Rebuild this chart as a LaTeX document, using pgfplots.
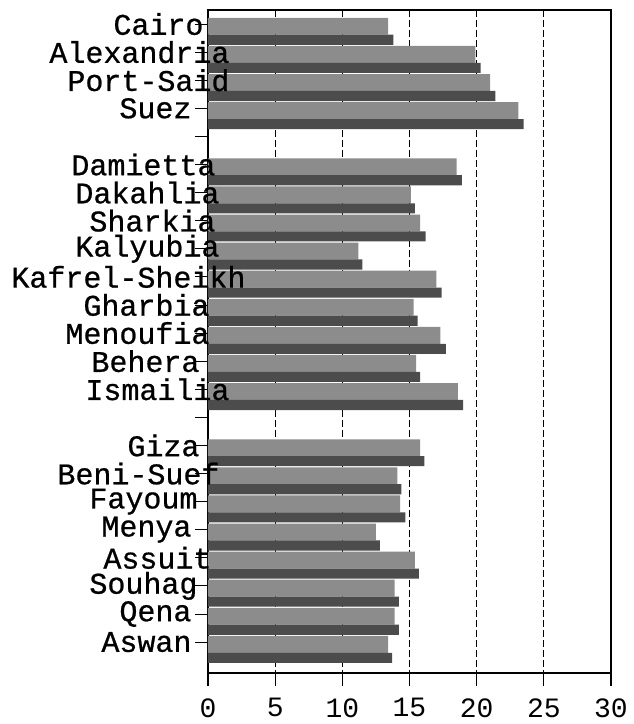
\documentclass[border=0pt]{standalone}
\usepackage{pgfplots}
\usepackage{pgfplotstable}
\pgfplotsset{compat=1.18}
\usepackage{fontspec}
\setmainfont[FakeBold=0.7]{Liberation Mono}
\newfontfamily\numfont{Liberation Mono}
\definecolor{barlight}{gray}{0.55}
\definecolor{bardark}{gray}{0.3}
\newcommand\ov[2]{#1\kern-#2pt\mbox{}}
\pgfplotsset{common/.style={scale only axis, width=403pt, height=663pt,
  xmin=0, xmax=30, ymin=-0.5, ymax=23.1, y dir=reverse,
  xtick={0,5,...,30}, ytick={0,...,22},
  xtick pos=bottom, ytick pos=left,
  tick align=outside, major tick length=13pt}}
\pgfplotstableread{
s v l
0 13.8 13.4
1 20.3 19.9
2 21.4 21.0
3 23.5 23.1
5 18.9 18.5
6 15.4 15.1
7 16.2 15.8
8 11.5 11.2
9 17.4 17.0
10 15.6 15.3
11 17.7 17.3
12 15.8 15.5
13 19.0 18.6
15 16.1 15.8
16 14.4 14.1
17 14.7 14.3
18 12.8 12.5
19 15.7 15.4
20 14.2 13.9
21 14.2 13.9
22 13.7 13.4
}\bars
\begin{document}
\begin{tikzpicture}
\begin{axis}[name=ax, common,
  yticklabels={},
  xmajorgrids, major x grid style={black, line width=0.7pt, dash pattern=on 7pt off 3pt},
  x tick style={black, line width=1.2pt}, y tick style={black, line width=0.9pt},
  axis line style={black, line width=1.4pt},
  /pgf/number format/assume math mode=true,
  xticklabel style={font=\numfont\fontsize{28}{28}\selectfont, yshift=-9pt},
]
\addplot[xbar, bar width=0.6, bar shift=0pt, fill=barlight, draw=none] table[x=l, y expr=\thisrow{s}+0.08] {\bars};
\addplot[xbar, bar width=0.36, bar shift=0pt, fill=bardark, draw=none] table[x=v, y expr=\thisrow{s}+0.56] {\bars};
\end{axis}
\begin{axis}[common, hide x axis,
  y axis line style={draw=none}, y tick style={draw=none},
  yticklabels={\ov{Cairo}{12}, \ov{Alexandria}{38}, \ov{Port-Said}{38}, Suez, {}, \ov{Damietta}{24}, \ov{Dakahlia}{28}, \ov{Sharkia}{24}, \ov{Kalyubia}{28}, \ov{Kafrel-Sheikh}{54}, \ov{Gharbia}{18}, \ov{Menoufia}{18}, \ov{Behera}{8}, \ov{Ismailia}{38}, {}, \ov{Giza}{8}, \ov{Beni-Suef}{28}, \ov{Fayoum}{6}, Menya, \ov{Assuit}{20}, \ov{Souhag}{6}, Qena, Aswan},
  yticklabel style={font=\fontsize{30}{30}\selectfont},
]
\end{axis}
\pgfresetboundingbox
\path[use as bounding box] ([shift={(-208pt,-51pt)}]ax.south west) rectangle ([shift={(425pt,673pt)}]ax.south west);
\end{tikzpicture}
\end{document}
